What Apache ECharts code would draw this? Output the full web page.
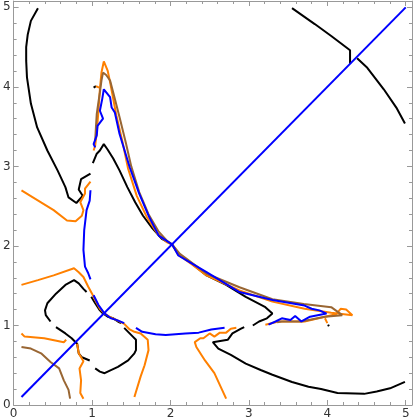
<!DOCTYPE html>
<html>
<head>
<meta charset="utf-8">
<script src="https://cdn.jsdelivr.net/npm/echarts@6/dist/echarts.min.js"></script>
<style>
  html, body { margin: 0; padding: 0; background: #fff; }
  #chart { width: 415px; height: 420px; }
</style>
</head>
<body>
<div id="chart"></div>
<script>
// axis ticks
var tickValues = [0, 1, 2, 3, 4, 5];

// black contours
var blackArcLeft = [[0.31,4.99],[0.22,4.83],[0.18,4.66],[0.16,4.50],[0.16,4.33],[0.17,4.12],[0.22,3.79],[0.30,3.49],[0.43,3.20],[0.56,2.95],[0.66,2.74],[0.70,2.61],[0.80,2.54],[0.88,2.63],[0.83,2.71],[0.86,2.84],[0.98,2.91]];
var blackPeak = [[1.01,3.04],[1.06,3.16],[1.10,3.20],[1.15,3.28],[1.20,3.21],[1.27,3.10],[1.35,2.95],[1.45,2.74],[1.55,2.55],[1.65,2.38],[1.77,2.22],[1.89,2.09],[2.02,2.02],[2.10,1.90],[2.27,1.78],[2.46,1.63],[2.71,1.51],[2.96,1.36],[3.21,1.23],[3.30,1.15],[3.23,1.09],[3.13,1.05],[3.05,1.00]];
var blackBottom = [[2.94,0.98],[2.90,0.96],[2.79,0.90],[2.73,0.82],[2.54,0.79],[2.61,0.71],[2.77,0.63],[2.96,0.52],[3.15,0.44],[3.30,0.38],[3.55,0.29],[3.76,0.23],[3.92,0.20],[4.13,0.15],[4.47,0.14],[4.63,0.17],[4.80,0.21],[4.99,0.29]];
var blackArcTop1 = [[3.55,4.99],[3.84,4.79],[4.05,4.64],[4.29,4.46],[4.29,4.29]];
var blackArcTop2 = [[4.38,4.36],[4.51,4.24],[4.72,3.97],[4.88,3.74],[4.99,3.54]];
var blackLoop1 = [[0.47,1.05],[0.41,1.13],[0.40,1.19],[0.43,1.28],[0.54,1.40],[0.66,1.51],[0.77,1.57],[0.79,1.57],[0.83,1.53],[0.89,1.46],[0.93,1.42]];
var blackLoop2 = [[0.99,1.36],[1.04,1.28],[1.10,1.19],[1.14,1.15],[1.20,1.11],[1.27,1.09],[1.33,1.05],[1.37,1.03]];
var blackLoop3 = [[1.41,0.97],[1.46,0.92],[1.52,0.86],[1.56,0.82],[1.56,0.69],[1.54,0.65],[1.46,0.56],[1.33,0.48],[1.20,0.42],[1.16,0.40],[1.10,0.42],[1.04,0.46]];
var blackLoop4 = [[0.97,0.56],[0.87,0.60],[0.83,0.65],[0.81,0.77],[0.74,0.84],[0.66,0.90],[0.54,0.98]];
var blackDot1 = [[1.02,3.99],[1.05,4.01]];
var blackDot2 = [[4.01,1.01],[4.02,0.99]];

// orange contours
var orangePeak = [[1.02,3.20],[1.04,3.26],[1.06,3.43],[1.08,3.68],[1.10,3.97],[1.12,4.18],[1.15,4.32],[1.20,4.20],[1.23,4.06],[1.31,3.64],[1.39,3.30],[1.46,2.97],[1.57,2.63],[1.70,2.36],[1.83,2.16],[1.95,2.05],[2.02,2.02],[2.10,1.89],[2.27,1.77],[2.46,1.63],[2.88,1.44],[3.30,1.30],[3.71,1.21],[4.05,1.16],[4.32,1.13],[4.24,1.20],[4.17,1.21],[4.11,1.14],[3.97,1.11],[3.71,1.05],[3.38,1.05],[3.21,1.01]];
var orangeBit1 = [[1.05,4.01],[1.09,3.99]];
var orangeBit2 = [[3.97,1.09],[4.00,1.03]];
var orangeLeftTop = [[0.10,2.70],[0.51,2.45],[0.68,2.32],[0.79,2.31],[0.87,2.38],[0.89,2.45],[0.85,2.55],[0.91,2.66],[0.91,2.72],[0.98,2.81]];
var orangeLeftMid = [[0.10,1.51],[0.31,1.57],[0.51,1.63],[0.77,1.72],[0.83,1.67],[0.89,1.61],[0.95,1.49],[1.00,1.40],[1.04,1.32],[1.10,1.21],[1.16,1.15],[1.24,1.10],[1.33,1.06],[1.41,1.02],[1.48,0.95],[1.54,0.92],[1.62,0.90],[1.71,0.82],[1.72,0.69],[1.67,0.50],[1.62,0.36],[1.54,0.10]];
var orangeLeftLow = [[0.10,0.90],[0.14,0.86],[0.39,0.84],[0.64,0.79],[0.67,0.82]];
var orangeLoopLow = [[0.81,0.77],[0.83,0.65],[0.89,0.55],[0.84,0.46],[0.86,0.31],[0.85,0.15],[0.89,0.08]];
var orangeRight = [[2.84,0.97],[2.77,0.96],[2.71,0.91],[2.63,0.91],[2.56,0.86],[2.50,0.90],[2.42,0.84],[2.38,0.84],[2.31,0.79],[2.33,0.73],[2.44,0.56],[2.56,0.40],[2.71,0.08]];

// brown contours
var brownPeak = [[1.04,3.33],[1.05,3.50],[1.06,3.66],[1.08,3.80],[1.10,3.93],[1.12,4.08],[1.14,4.18],[1.18,4.15],[1.23,4.08],[1.27,3.93],[1.35,3.62],[1.43,3.30],[1.50,3.00],[1.60,2.68],[1.72,2.40],[1.85,2.18],[1.96,2.06],[2.02,2.02],[2.12,1.90],[2.30,1.77],[2.46,1.65],[2.88,1.48],[3.30,1.33],[3.70,1.27],[4.05,1.23],[4.19,1.13],[3.97,1.11],[3.67,1.05],[3.42,1.05],[3.36,1.04]];
var brownLow = [[0.10,0.73],[0.22,0.71],[0.35,0.65],[0.47,0.54],[0.58,0.46],[0.64,0.31],[0.70,0.19],[0.72,0.08]];

// blue contours
var bluePeak = [[1.04,3.24],[1.02,3.28],[1.06,3.39],[1.07,3.51],[1.14,3.60],[1.10,3.70],[1.13,3.85],[1.15,3.97],[1.23,3.87],[1.25,3.74],[1.29,3.68],[1.35,3.41],[1.48,2.99],[1.60,2.66],[1.73,2.36],[1.85,2.13],[2.02,2.02],[2.10,1.88],[2.27,1.78],[2.46,1.67],[2.88,1.42],[3.30,1.32],[3.71,1.25],[3.80,1.21],[3.90,1.19],[3.99,1.15],[3.78,1.11],[3.67,1.05],[3.59,1.12],[3.53,1.07],[3.42,1.09],[3.34,1.05],[3.25,1.01]];
var blueLeft = [[0.98,2.70],[0.97,2.57],[0.93,2.45],[0.90,2.20],[0.89,1.95],[0.91,1.74],[0.95,1.66],[0.98,1.58]];
var blueSaddle = [[1.02,1.38],[1.08,1.26],[1.16,1.15],[1.24,1.09],[1.31,1.07],[1.41,1.03]];
var blueFlat = [[1.56,0.97],[1.64,0.92],[1.81,0.89],[1.94,0.88],[2.19,0.90],[2.36,0.91],[2.52,0.95],[2.69,0.97]];
var diagonal = [[0.1,0.1],[5,5]];

var BLACK = '#000000', ORANGE = '#ff8000', BROWN = '#996633', BLUE = '#0000ff';

var groups = [
  [BLACK, [blackArcLeft, blackPeak, blackBottom, blackArcTop1, blackArcTop2, blackLoop1, blackLoop2, blackLoop3, blackLoop4, blackDot1, blackDot2]],
  [ORANGE, [orangePeak, orangeBit1, orangeBit2, orangeLeftTop, orangeLeftMid, orangeLeftLow, orangeLoopLow, orangeRight]],
  [BROWN, [brownPeak, brownLow]],
  [BLUE, [bluePeak, blueLeft, blueSaddle, blueFlat, diagonal]]
];

var series = [];
groups.forEach(function (g) {
  g[1].forEach(function (d) {
    series.push({
      type: 'line',
      data: d,
      showSymbol: false,
      silent: true,
      lineStyle: { color: g[0], width: 2 },
      itemStyle: { color: g[0] }
    });
  });
});

var frameColor = '#999999';
function makeAxis(pos, labels) {
  return {
    type: 'value',
    position: pos,
    min: 0,
    max: 5.08,
    interval: 1,
    axisLine: { show: true, onZero: false, lineStyle: { color: frameColor, width: 1 } },
    axisTick: { show: true, inside: true, length: 5, lineStyle: { color: frameColor } },
    minorTick: { show: true, splitNumber: 5, length: 3, lineStyle: { color: frameColor } },
    splitLine: { show: false },
    axisLabel: {
      show: labels,
      color: '#333',
      fontSize: 12,
      fontFamily: 'DejaVu Sans',
      margin: 3,
      formatter: function (v) { return tickValues.indexOf(v) >= 0 ? String(v) : ''; }
    }
  };
}

var chart = echarts.init(document.getElementById('chart'));
chart.setOption({
  animation: false,
  backgroundColor: '#fff',
  grid: { left: 9, right: 1, top: 1, bottom: 15 },
  xAxis: [makeAxis('bottom', true), makeAxis('top', false)],
  yAxis: [makeAxis('left', true), makeAxis('right', false)],
  series: series
});
</script>
</body>
</html>
